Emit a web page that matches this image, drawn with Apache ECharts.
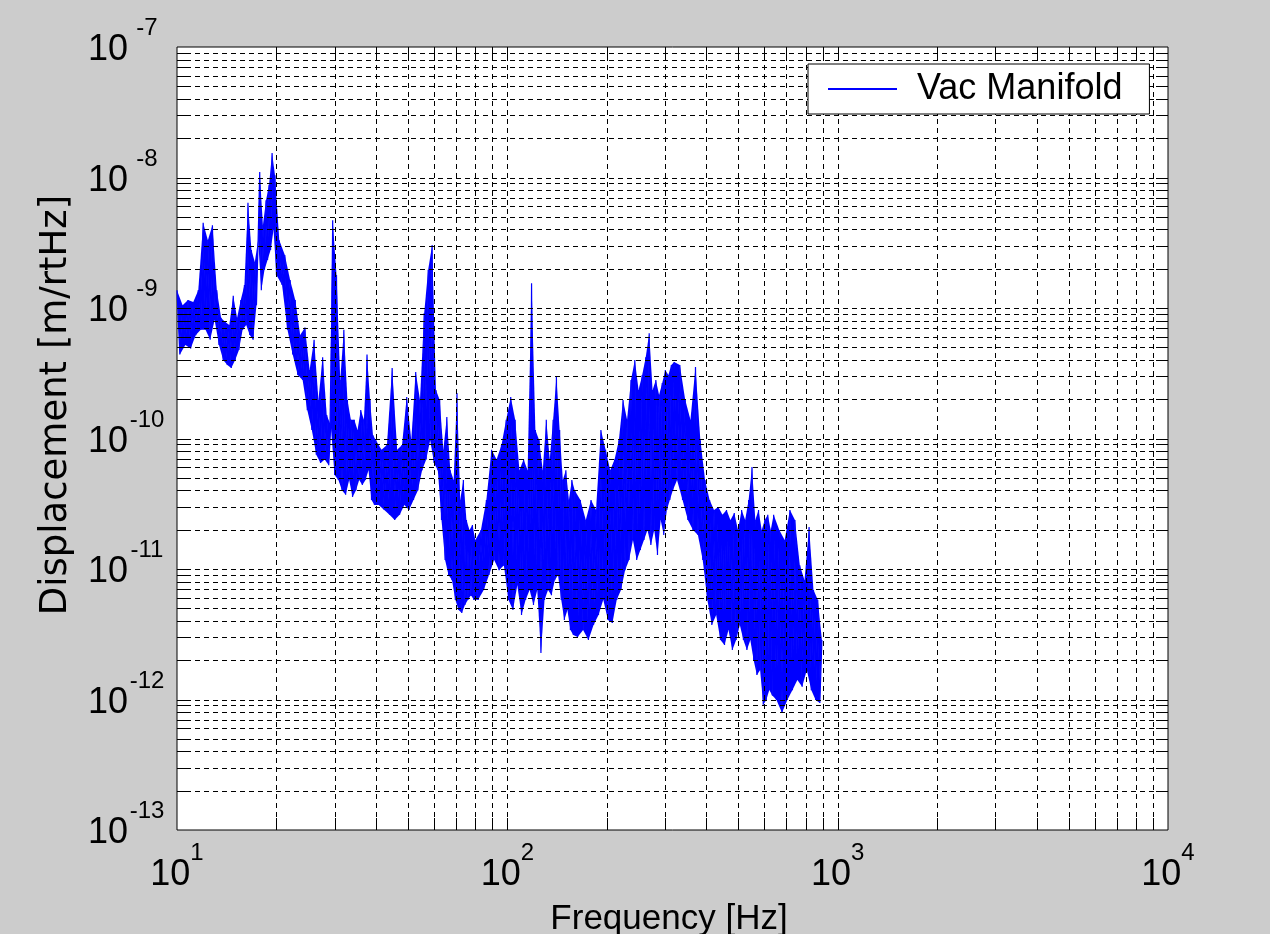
<!DOCTYPE html>
<html>
<head>
<meta charset="utf-8">
<title>Vac Manifold displacement spectrum</title>
<script src="https://cdn.jsdelivr.net/npm/echarts@6/dist/echarts.min.js"></script>
<style>
  html, body { margin: 0; padding: 0; background: #cccccc; }
  #chart { width: 1270px; height: 934px; }
</style>
</head>
<body>
<div id="chart"></div>
<script>
// frequency bins [Hz], one list per octave
const freq10to20 = [10.0, 10.2, 10.4, 10.6, 10.8, 11.0, 11.2, 11.4, 11.6, 11.8, 12.0, 12.2, 12.4, 12.6, 12.8, 13.0, 13.2, 13.4, 13.6, 13.8,
  14.0, 14.2, 14.4, 14.6, 14.8, 15.0, 15.2, 15.4, 15.6, 15.8, 16.0, 16.2, 16.4, 16.6, 16.8, 17.0, 17.2, 17.4, 17.6, 17.8,
  18.0, 18.2, 18.4, 18.6, 18.8, 19.0, 19.2, 19.4, 19.6, 19.8];
const freq20to40 = [20.0, 20.4, 20.8, 21.2, 21.6, 22.0, 22.4, 22.8, 23.2, 23.6, 24.0, 24.4, 24.8, 25.2, 25.6, 26.0, 26.4, 26.8, 27.2, 27.6,
  28.0, 28.4, 28.8, 29.2, 29.6, 30.0, 30.4, 30.8, 31.2, 31.6, 32.0, 32.4, 32.8, 33.2, 33.6, 34.0, 34.4, 34.8, 35.2, 35.6,
  36.0, 36.4, 36.8, 37.2, 37.6, 38.0, 38.4, 38.8, 39.2, 39.6];
const freq40to80 = [40.0, 40.8, 41.6, 42.4, 43.2, 44.0, 44.8, 45.6, 46.4, 47.2, 48.0, 48.8, 49.6, 50.4, 51.2, 52.0, 52.8, 53.6, 54.4, 55.2,
  56.0, 56.8, 57.6, 58.4, 59.2, 60.0, 60.8, 61.6, 62.4, 63.2, 64.0, 64.8, 65.6, 66.4, 67.2, 68.0, 68.8, 69.6, 70.4, 71.2,
  72.0, 72.8, 73.6, 74.4, 75.2, 76.0, 76.8, 77.6, 78.4, 79.2];
const freq80to160 = [80, 81.6, 83.2, 84.8, 86.4, 88, 89.6, 91.2, 92.8, 94.4, 96, 97.6, 99.2, 100.8, 102.4, 104, 105.6, 107.2, 108.8, 110.4,
  112, 113.6, 115.2, 116.8, 118.4, 120, 121.6, 123.2, 124.8, 126.4, 128, 129.6, 131.2, 132.8, 134.4, 136, 137.6, 139.2, 140.8, 142.4,
  144, 145.6, 147.2, 148.8, 150.4, 152, 153.6, 155.2, 156.8, 158.4];
const freq160to320 = [160, 163.2, 166.4, 169.6, 172.8, 176, 179.2, 182.4, 185.6, 188.8, 192, 195.2, 198.4, 201.6, 204.8, 208, 211.2, 214.4, 217.6, 220.8,
  224, 227.2, 230.4, 233.6, 236.8, 240, 243.2, 246.4, 249.6, 252.8, 256, 259.2, 262.4, 265.6, 268.8, 272, 275.2, 278.4, 281.6, 284.8,
  288, 291.2, 294.4, 297.6, 300.8, 304, 307.2, 310.4, 313.6, 316.8];
const freq320to640 = [320, 326.4, 332.8, 339.2, 345.6, 352, 358.4, 364.8, 371.2, 377.6, 384, 390.4, 396.8, 403.2, 409.6, 416, 422.4, 428.8, 435.2, 441.6,
  448, 454.4, 460.8, 467.2, 473.6, 480, 486.4, 492.8, 499.2, 505.6, 512, 518.4, 524.8, 531.2, 537.6, 544, 550.4, 556.8, 563.2, 569.6,
  576, 582.4, 588.8, 595.2, 601.6, 608, 614.4, 620.8, 627.2, 633.6];
const freq640to900 = [640, 652.8, 665.6, 678.4, 691.2, 704, 716.8, 729.6, 742.4, 755.2, 768, 780.8, 793.6, 806.4, 819.2, 832, 844.8, 857.6, 870.4, 883.2, 896];

// displacement [m/rtHz], alternating upper / lower envelope
const disp10to20 = [1.37e-9, 4.4e-10, 1.05e-9, 5.2e-10, 1.15e-9, 4.9e-10, 1.11e-9, 6.2e-10, 1.37e-9, 6.8e-10,
  4.5e-9, 6.8e-10, 3.3e-9, 5.7e-10, 4.3e-9, 8.1e-10, 1.37e-9, 5.2e-10, 8.4e-10, 4.0e-10,
  7.8e-10, 3.66e-10, 7.4e-10, 3.47e-10, 1.24e-9, 4.0e-10, 8.4e-10, 4.76e-10, 1.15e-9, 6.8e-10,
  1.5e-9, 7.4e-10, 6.4e-9, 6.2e-10, 2.78e-9, 5.7e-10, 2.25e-9, 1.05e-9, 3.3e-9, 1.1e-8,
  1.37e-9, 4.3e-9, 1.96e-9, 6.7e-9, 2.33e-9, 8.8e-9, 2.78e-9, 1.54e-8, 3.96e-9, 1.04e-8];
const disp20to40 = [1.79e-9, 3.3e-9, 1.5e-9, 2.55e-9, 6.8e-10, 1.64e-9, 4.4e-10, 1.15e-9, 3.07e-10, 6.2e-10,
  2.81e-10, 7.1e-10, 1.65e-10, 3.35e-10, 1.16e-10, 5.7e-10, 7.5e-11, 1.97e-10, 6.5e-11, 4.2e-10,
  6.9e-11, 1.51e-10, 6.25e-11, 1.27e-10, 4.7e-9, 5.25e-11, 1.79e-9, 4.8e-11, 2.81e-10, 4.0e-11,
  6.8e-10, 3.7e-11, 1.97e-10, 4.8e-11, 1.39e-10, 3.56e-11, 1.39e-10, 4.0e-11, 1.16e-10, 4.8e-11,
  1.65e-10, 4.4e-11, 1.39e-10, 4.8e-11, 4.4e-10, 5.7e-11, 1.97e-10, 3.38e-11, 1.06e-10, 3.1e-11];
const disp40to80 = [9.7e-11, 3.1e-11, 8.2e-11, 2.83e-11, 8.9e-11, 2.6e-11, 3.47e-10, 2.37e-11, 8.2e-11, 2.6e-11,
  8.9e-11, 3.1e-11, 2.08e-10, 2.83e-11, 9.7e-11, 3.38e-11, 3.23e-10, 4.0e-11, 1.97e-10, 5.7e-11,
  9.1e-10, 6.9e-11, 1.96e-9, 9.7e-11, 3.04e-9, 6.5e-11, 2.35e-10, 5.7e-11, 1.97e-10, 2.37e-11,
  8.2e-11, 1.17e-11, 1.46e-10, 9.0e-12, 5.7e-11, 8.2e-12, 4.8e-11, 5.8e-12, 2.23e-10, 4.85e-12,
  3.38e-11, 4.6e-12, 4.8e-11, 5.3e-12, 2.37e-11, 5.8e-12, 1.99e-11, 6.3e-12, 2.17e-11, 5.8e-12];
const disp80to160 = [1.67e-11, 5.8e-12, 1.99e-11, 6.9e-12, 3.38e-11, 9.0e-12, 8.2e-11, 1.17e-11, 6.9e-11, 9.8e-12,
  8.9e-11, 1.07e-11, 1.39e-10, 5.8e-12, 2.08e-10, 4.85e-12, 1.39e-10, 7.5e-12, 5.7e-11, 4.45e-12,
  6.9e-11, 5.8e-12, 5.7e-11, 6.9e-12, 1.55e-9, 5.3e-12, 1.16e-10, 6.9e-12, 9.7e-11, 2.27e-12,
  5.7e-11, 5.8e-12, 1.39e-10, 6.9e-12, 6.9e-11, 6.3e-12, 1.39e-10, 8.2e-12, 2.96e-10, 9.0e-12,
  1.16e-10, 5.8e-12, 4.8e-11, 4.06e-12, 5.7e-11, 4.85e-12, 3.38e-11, 3.41e-12, 4.8e-11, 3.12e-12];
const disp160to320 = [4.0e-11, 3.01e-12, 3.38e-11, 3.41e-12, 2.37e-11, 2.86e-12, 3.38e-11, 3.72e-12, 2.83e-11, 4.45e-12,
  1.16e-10, 5.8e-12, 8.2e-11, 4.06e-12, 5.7e-11, 3.85e-12, 6.9e-11, 5.8e-12, 9.7e-11, 6.9e-12,
  1.97e-10, 9.8e-12, 1.39e-10, 1.17e-11, 2.81e-10, 1.67e-11, 4.0e-10, 1.17e-11, 2.35e-10, 1.4e-11,
  3.07e-10, 1.67e-11, 4.2e-10, 1.99e-11, 6.4e-10, 1.53e-11, 2.35e-10, 1.99e-11, 2.81e-10, 1.28e-11,
  2.15e-10, 2.37e-11, 2.66e-10, 1.82e-11, 3.35e-10, 2.83e-11, 3.07e-10, 3.38e-11, 3.66e-10, 4.0e-11];
const disp320to640 = [3.85e-10, 4.8e-11, 3.66e-10, 3.38e-11, 1.97e-10, 2.37e-11, 1.39e-10, 1.99e-11, 3.53e-10, 1.82e-11,
  9.7e-11, 1.17e-11, 4.8e-11, 5.8e-12, 3.38e-11, 3.72e-12, 2.83e-11, 4.45e-12, 2.98e-11, 2.86e-12,
  2.6e-11, 2.62e-12, 2.83e-11, 3.41e-12, 2.37e-11, 2.4e-12, 2.69e-11, 2.86e-12, 1.99e-11, 3.72e-12,
  2.83e-11, 2.86e-12, 2.37e-11, 2.4e-12, 3.38e-11, 2.86e-12, 6.05e-11, 2.0e-12, 2.37e-11, 1.54e-12,
  2.83e-11, 1.68e-12, 1.99e-11, 9.1e-13, 2.37e-11, 9.9e-13, 2.6e-11, 1.18e-12, 1.99e-11, 1.08e-12];
const disp640to900 = [2.6e-11, 9.9e-13, 1.99e-11, 7.9e-13, 1.67e-11, 9.9e-13, 2.83e-11, 1.18e-12, 2.37e-11, 1.41e-12,
  1.07e-11, 1.25e-12, 8.2e-12, 1.68e-12, 2.1e-11, 1.18e-12, 6.9e-12, 9.9e-13, 5.8e-12, 9.4e-13, 2.86e-12];

// axis ranges and grid line positions
const FREQ_MIN = 10, FREQ_MAX = 10000;
const DISP_MIN = 1e-13, DISP_MAX = 1e-7;
const freqGrid = [20, 30, 40, 50, 60, 70, 80, 90, 100, 200, 300, 400, 500, 600, 700, 800, 900,
  1000, 2000, 3000, 4000, 5000, 6000, 7000, 8000, 9000];
const dispGrid = [2e-13, 3e-13, 4e-13, 5e-13, 6e-13, 7e-13, 8e-13, 9e-13,
  1e-12, 2e-12, 3e-12, 4e-12, 5e-12, 6e-12, 7e-12, 8e-12, 9e-12,
  1e-11, 2e-11, 3e-11, 4e-11, 5e-11, 6e-11, 7e-11, 8e-11, 9e-11,
  1e-10, 2e-10, 3e-10, 4e-10, 5e-10, 6e-10, 7e-10, 8e-10, 9e-10,
  1e-9, 2e-9, 3e-9, 4e-9, 5e-9, 6e-9, 7e-9, 8e-9, 9e-9,
  1e-8, 2e-8, 3e-8, 4e-8, 5e-8, 6e-8, 7e-8, 8e-8, 9e-8];

const freqHz = [].concat(freq10to20, freq20to40, freq40to80, freq80to160, freq160to320, freq320to640, freq640to900);
const dispVac = [].concat(disp10to20, disp20to40, disp40to80, disp80to160, disp160to320, disp320to640, disp640to900);
const tracePoints = freqHz.map((f, i) => [f, dispVac[i]]);

const FONT = 'Liberation Sans, Arial, Helvetica, sans-serif';
const BLUE = '#0000ff';
const TICK_LEN = 12;
const dashStyle = { stroke: '#000', lineWidth: 1, lineDash: [5, 4] };
const tickStyle = { stroke: '#000', lineWidth: 1 };

function powLabel(v) {
  return '{b|10}{s|' + Math.round(Math.log10(v)) + '}';
}

// fills the zig-zag between neighbouring samples so the trace reads as a solid band
function renderBand(params, api) {
  const i = params.dataIndex;
  if (i + 2 >= tracePoints.length) return null;
  const pts = [tracePoints[i], tracePoints[i + 1], tracePoints[i + 2]].map(p => api.coord(p));
  return { type: 'polygon', shape: { points: pts }, style: { fill: BLUE } };
}

// vertical grid line + ticks at top and bottom for one frequency
function renderFreqGrid(params, api) {
  const cs = params.coordSys;
  const x = Math.round(api.coord([api.value(0), api.value(1)])[0]) + 0.5;
  const top = cs.y, bottom = cs.y + cs.height;
  return {
    type: 'group',
    children: [
      { type: 'line', shape: { x1: x, y1: top, x2: x, y2: bottom }, style: dashStyle },
      { type: 'line', shape: { x1: x, y1: bottom, x2: x, y2: bottom - TICK_LEN }, style: tickStyle },
      { type: 'line', shape: { x1: x, y1: top, x2: x, y2: top + TICK_LEN }, style: tickStyle }
    ]
  };
}

// horizontal grid line + ticks at left and right for one displacement level
function renderDispGrid(params, api) {
  const cs = params.coordSys;
  const y = Math.round(api.coord([api.value(0), api.value(1)])[1]) + 0.5;
  const left = cs.x, right = cs.x + cs.width;
  return {
    type: 'group',
    children: [
      { type: 'line', shape: { x1: left, y1: y, x2: right, y2: y }, style: dashStyle },
      { type: 'line', shape: { x1: left, y1: y, x2: left + TICK_LEN, y2: y }, style: tickStyle },
      { type: 'line', shape: { x1: right, y1: y, x2: right - TICK_LEN, y2: y }, style: tickStyle }
    ]
  };
}

const chart = echarts.init(document.getElementById('chart'));

const option = {
  backgroundColor: '#cccccc',
  animation: false,
  grid: {
    left: 177, top: 47, width: 991, height: 783,
    show: true, backgroundColor: '#ffffff', borderColor: '#000', borderWidth: 1,
    outerBoundsMode: 'none'
  },
  xAxis: {
    type: 'log', logBase: 10, min: FREQ_MIN, max: FREQ_MAX, splitNumber: 3,
    axisLine: { show: false }, axisTick: { show: false }, splitLine: { show: false },
    axisLabel: {
      margin: 11, showMinLabel: true, showMaxLabel: true,
      formatter: powLabel,
      rich: {
        b: { fontSize: 36, lineHeight: 68, color: '#000', fontFamily: FONT },
        s: { fontSize: 24, lineHeight: 36, verticalAlign: 'top', color: '#000', fontFamily: FONT }
      }
    }
  },
  yAxis: {
    type: 'log', logBase: 10, min: DISP_MIN, max: DISP_MAX, splitNumber: 6,
    axisLine: { show: false }, axisTick: { show: false }, splitLine: { show: false },
    axisLabel: {
      margin: 11, showMinLabel: true, showMaxLabel: true, padding: [7, 0, 0, 0],
      formatter: powLabel,
      rich: {
        b: { fontSize: 36, lineHeight: 68, color: '#000', fontFamily: FONT },
        s: { fontSize: 24, lineHeight: 36, width: 38, align: 'left', verticalAlign: 'top', color: '#000', fontFamily: FONT }
      }
    }
  },
  legend: {
    left: 808, top: 64, orient: 'vertical',
    backgroundColor: '#ffffff', borderColor: '#000', borderWidth: 1, borderRadius: 0,
    padding: [7, 27, 7, 20],
    itemWidth: 69, itemHeight: 2, icon: 'rect',
    textStyle: { fontSize: 36, lineHeight: 36, color: '#000', fontFamily: FONT, padding: [0, 0, 0, 15] },
    data: ['Vac Manifold']
  },
  graphic: [
    {
      type: 'text', x: 56, y: 405, rotation: Math.PI / 2, silent: true,
      style: { text: 'Displacement [m/rtHz]', fontSize: 37, fontFamily: 'DejaVu Sans', fill: '#000',
        align: 'center', verticalAlign: 'middle', textAlign: 'center', textVerticalAlign: 'middle' }
    },
    {
      type: 'text', x: 669, y: 919, silent: true,
      style: { text: 'Frequency [Hz]', fontSize: 35, fontFamily: FONT, fill: '#000',
        align: 'center', verticalAlign: 'middle', textAlign: 'center', textVerticalAlign: 'middle' }
    }
  ],
  series: [
    {
      name: 'Vac Manifold',
      type: 'line',
      data: tracePoints,
      symbol: 'none',
      lineStyle: { color: BLUE, width: 1.2 },
      itemStyle: { color: BLUE },
      z: 2
    },
    {
      type: 'custom', silent: true, z: 2,
      data: tracePoints,
      renderItem: renderBand
    },
    {
      type: 'custom', silent: true, z: 3, clip: false,
      data: freqGrid.map(f => [f, DISP_MIN]),
      renderItem: renderFreqGrid
    },
    {
      type: 'custom', silent: true, z: 3, clip: false,
      data: dispGrid.map(v => [FREQ_MIN, v]),
      renderItem: renderDispGrid
    }
  ]
};

chart.setOption(option);
</script>
</body>
</html>
